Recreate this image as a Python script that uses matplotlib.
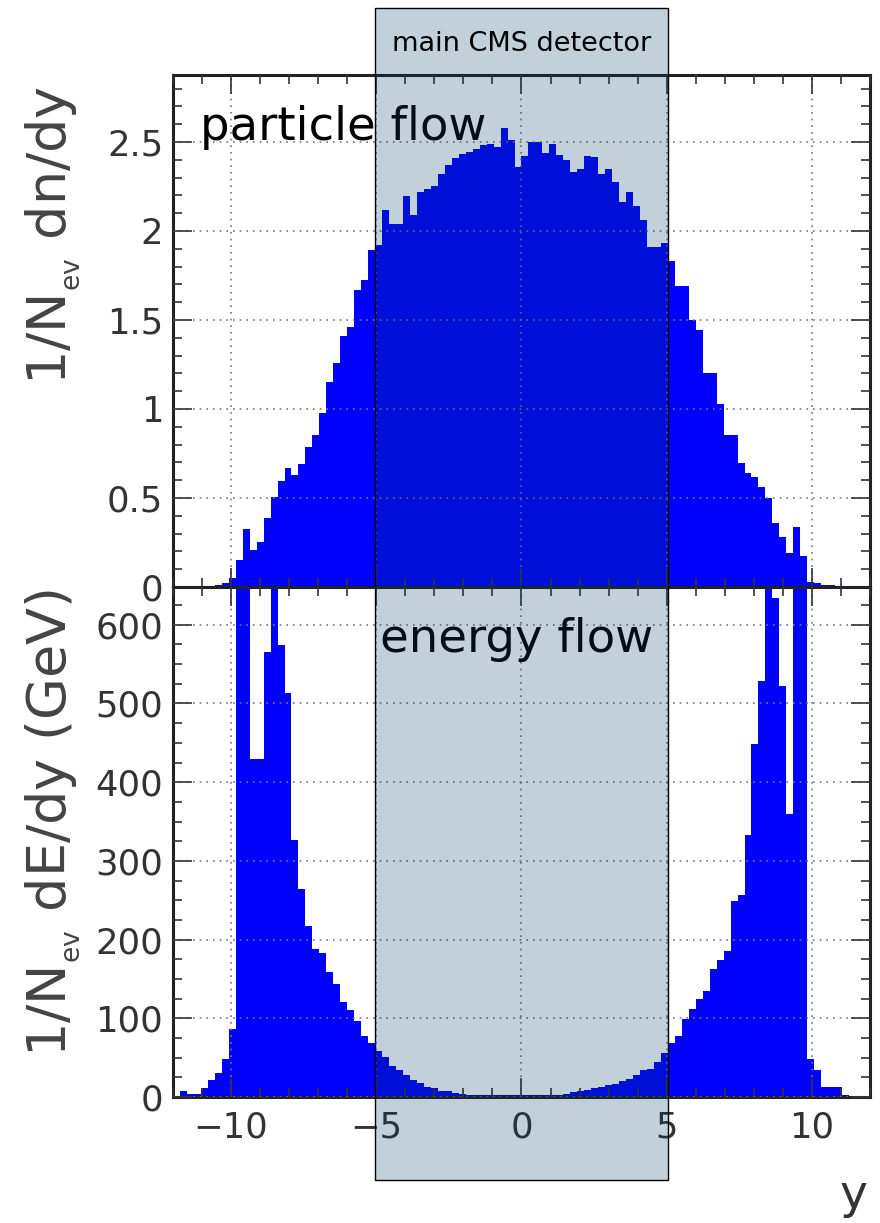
import numpy as np
import matplotlib
matplotlib.use("Agg")
import matplotlib.pyplot as plt
from matplotlib.patches import Rectangle
from matplotlib.transforms import blended_transform_factory
from matplotlib.ticker import MultipleLocator

# rapidity bins: 100 bins from -12 to 12
y_edges = np.linspace(-12, 12, 101)

# 1/N_ev dn/dy  (particle flow)
dn_dy = [
    0.0, 0.0, 0.0, 0.002, 0.003, 0.005, 0.01, 0.02, 0.05, 0.152,
    0.324, 0.208, 0.255, 0.386, 0.507, 0.597, 0.67, 0.629, 0.69, 0.788,
    0.854, 0.979, 1.153, 1.26, 1.41, 1.46, 1.668, 1.725, 1.893, 1.92,
    2.12, 2.04, 2.04, 2.197, 2.09, 2.22, 2.234, 2.25, 2.32, 2.37,
    2.41, 2.43, 2.446, 2.46, 2.48, 2.49, 2.47, 2.58, 2.51, 2.36,
    2.42, 2.50, 2.50, 2.436, 2.49, 2.427, 2.40, 2.333, 2.35, 2.42,
    2.414, 2.32, 2.35, 2.277, 2.165, 2.22, 2.14, 2.06, 1.91, 1.91,
    1.93, 1.83, 1.69, 1.69, 1.50, 1.444, 1.20, 1.20, 1.03, 0.854,
    0.854, 0.695, 0.639, 0.62, 0.563, 0.498, 0.358, 0.283, 0.19, 0.339,
    0.174, 0.03, 0.02, 0.012, 0.01, 0.008, 0.005, 0.003, 0.002, 0.001,
]

# 1/N_ev dE/dy in GeV (energy flow); spikes run off the top of the frame
dE_dy = [
    1, 8, 4, 4, 11, 22, 30, 48, 86, 750,
    750, 430, 430, 566, 700, 574, 513, 327, 264, 217,
    188, 183, 159, 144, 121, 110, 96, 77, 68, 58,
    51, 39, 34, 28, 22, 18, 13, 12, 8, 7,
    5, 4, 3, 2.5, 2, 2, 2, 2, 2, 2,
    2, 2, 2, 2.5, 3, 3, 4, 6, 7, 9,
    11, 13, 15, 17, 20, 23, 28, 34, 36, 45,
    56, 68, 78, 99, 112, 124, 135, 162, 174, 186,
    249, 257, 333, 449, 528, 700, 634, 522, 360, 750,
    750, 48, 34, 13, 13, 13, 2, 1, 1, 1,
]

detector_lo, detector_hi = -5.05, 5.05

fig = plt.figure(figsize=(8.8, 12.23), dpi=100)
ax1 = fig.add_axes([0.1966, 0.52004, 0.792, 0.41864])
ax2 = fig.add_axes([0.1966, 0.10303, 0.792, 0.41701], sharex=ax1)

tick_col = "#333333"
for ax in (ax1, ax2):
    ax.set_xlim(-12, 12)
    ax.xaxis.set_major_locator(MultipleLocator(5))
    ax.xaxis.set_minor_locator(MultipleLocator(1))
    ax.tick_params(which="both", direction="in", top=True, right=True,
                   colors=tick_col, labelsize=25.5, width=1.2)
    ax.tick_params(which="major", length=14)
    ax.tick_params(which="minor", length=6.5)
    ax.tick_params(axis="y", pad=7)
    ax.tick_params(axis="x", pad=10)
    ax.grid(True, which="major", linestyle=(0, (1, 3)), color="#777777", linewidth=1.2)
    ax.set_axisbelow(False)
    for s in ax.spines.values():
        s.set_linewidth(2.2)
        s.set_color("#222222")

ax1.stairs(dn_dy, y_edges, fill=True, color="#0000ff", linewidth=0)
ax1.set_ylim(0, 2.876)
ax1.yaxis.set_major_locator(MultipleLocator(0.5))
ax1.yaxis.set_minor_locator(MultipleLocator(0.1))
ax1.yaxis.set_major_formatter(matplotlib.ticker.FuncFormatter(lambda v, p: f"{v:g}"))
ax1.tick_params(axis="x", labelbottom=False)
ax1.set_ylabel(r"1/N$_{{}_{\mathregular{ev}}}$ dn/dy", fontsize=39, color="#444444", loc="top")
ax1.yaxis.set_label_coords(-0.131, 0.98)
ax1.text(0.039, 0.873, "particle flow", transform=ax1.transAxes, fontsize=33.5,
         ha="left", va="baseline", color="black")

ax2.stairs(dE_dy, y_edges, fill=True, color="#0000ff", linewidth=0)
ax2.set_ylim(0, 648)
ax2.yaxis.set_major_locator(MultipleLocator(100))
ax2.yaxis.set_minor_locator(MultipleLocator(25))
ax2.set_ylabel(r"1/N$_{{}_{\mathregular{ev}}}$ dE/dy (GeV)", fontsize=39, color="#444444", loc="top")
ax2.yaxis.set_label_coords(-0.131, 0.995)
ax2.set_xlabel("y", fontsize=34, color="#333333", loc="right")
ax2.xaxis.set_label_coords(0.997, -0.15)
ax2.xaxis.label.set_va("top")
ax2.text(0.297, 0.873, "energy flow", transform=ax2.transAxes, fontsize=33.5,
         ha="left", va="baseline", color="black")

# shaded band marking the main CMS detector acceptance, spanning both panels
trans = blended_transform_factory(ax2.transData, fig.transFigure)
band = Rectangle((detector_lo, 1 - 1180 / 1223), detector_hi - detector_lo,
                 (1180 - 8) / 1223, transform=trans,
                 facecolor=(0.0, 0.23, 0.39, 0.24), edgecolor="black", linewidth=1.0)
fig.add_artist(band)
fig.text(0.0, 1 - 44 / 1223, "main CMS detector", transform=trans,
         ha="center", va="center", fontsize=19.5, color="black")

fig.savefig("out.png", dpi=100)
